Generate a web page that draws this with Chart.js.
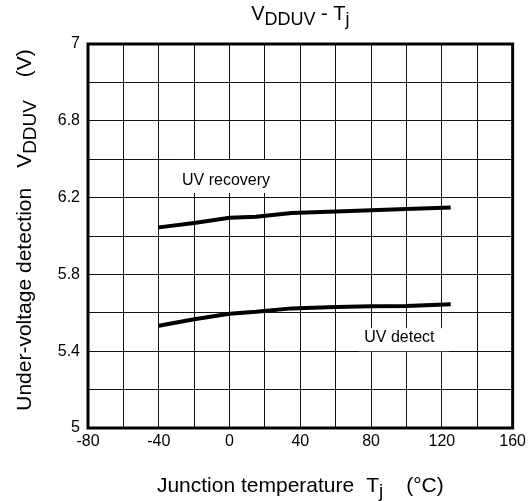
<!DOCTYPE html>
<html>
<head>
<meta charset="utf-8">
<script src="https://cdn.jsdelivr.net/npm/chart.js@4"></script>
<style>
  html, body { margin: 0; padding: 0; background: #fff; }
  #wrap { width: 530px; height: 501px; }
</style>
</head>
<body>
<div id="wrap"><canvas id="uvChart" width="530" height="501"></canvas></div>
<script>
// --- data ---
const temps = [-40, -20, 0, 15, 35, 60, 80, 100, 125];
const uvRecovery = [6.045, 6.068, 6.095, 6.100, 6.120, 6.128, 6.134, 6.141, 6.149];
const uvDetect = [5.533, 5.566, 5.595, 5.605, 5.623, 5.630, 5.634, 5.636, 5.644];
const xTickLabels = ['-80', '-40', '0', '40', '80', '120', '160'];
const yTickLabels = ['5', '5.4', '5.8', '6.2', '6.8', '7'];

const FONT = "'Liberation Sans', Arial, sans-serif";

// curve labels, in data units (text centre + white box behind it)
const curveLabels = [
    {text: 'UV recovery', x: -2, y: 6.29, box: [-30, 28, 6.224, 6.396]},
    {text: 'UV detect', x: 96, y: 5.469, box: [73, 124, 5.40, 5.52]}
];

// draws text made of parts, some of them subscripts
function richWidth(ctx, parts, size){
    let w = 0;
    parts.forEach(p => {
        if (p.gap) { w += p.gap; return; }
        ctx.font = (p.sub ? size * 0.9 : size) + 'px ' + FONT;
        w += ctx.measureText(p.t).width;
    });
    return w;
}
function drawRich(ctx, parts, x, y, size){
    const w = richWidth(ctx, parts, size);
    let cx = x - w / 2;
    ctx.textAlign = 'left';
    ctx.textBaseline = 'alphabetic';
    ctx.fillStyle = '#000';
    parts.forEach(p => {
        if (p.gap) { cx += p.gap; return; }
        const s = p.sub ? size * 0.9 : size;
        ctx.font = s + 'px ' + FONT;
        ctx.fillText(p.t, cx, y + (p.sub ? size * 0.25 : 0));
        cx += ctx.measureText(p.t).width;
    });
}

const decorations = {
    id: 'decorations',
    beforeDatasetsDraw(chart){
        const {ctx, scales: {x, y}} = chart;
        ctx.save();
        ctx.fillStyle = '#fff';
        curveLabels.forEach(l => {
            const x1 = x.getPixelForValue(l.box[0]), x2 = x.getPixelForValue(l.box[1]);
            const y1 = y.getPixelForValue(l.box[3]), y2 = y.getPixelForValue(l.box[2]);
            ctx.fillRect(x1, y1, x2 - x1, y2 - y1);
        });
        ctx.fillStyle = '#000';
        ctx.font = '16px ' + FONT;
        ctx.textAlign = 'center';
        ctx.textBaseline = 'middle';
        curveLabels.forEach(l => {
            ctx.fillText(l.text, x.getPixelForValue(l.x), y.getPixelForValue(l.y));
        });
        ctx.restore();
    },
    afterDraw(chart){
        const {ctx, chartArea: a} = chart;
        ctx.save();
        // frame
        ctx.strokeStyle = '#000';
        ctx.lineWidth = 3;
        ctx.strokeRect(a.left, a.top, a.right - a.left, a.bottom - a.top);

        const midX = (a.left + a.right) / 2;
        // title
        drawRich(ctx, [{t: 'V'}, {t: 'DDUV', sub: true}, {t: ' - T'}, {t: 'j', sub: true}], midX, 20, 20);
        // x axis title
        drawRich(ctx, [{t: 'Junction temperature'}, {gap: 12}, {t: 'T'}, {t: 'j', sub: true}, {gap: 23}, {t: '(°C)'}], midX, 492, 21);
        // y axis title, rotated
        ctx.translate(31, 230);
        ctx.rotate(-Math.PI / 2);
        drawRich(ctx, [{t: 'Under-voltage detection'}, {gap: 20}, {t: 'V'}, {t: 'DDUV', sub: true}, {gap: 23}, {t: '(V)'}], 0, 0, 21);
        ctx.restore();
    }
};

const lineStyle = {borderColor: '#000', borderWidth: 4, pointRadius: 0, tension: 0, fill: false};

new Chart(document.getElementById('uvChart').getContext('2d'), {
    type: 'line',
    data: {
        datasets: [
            Object.assign({label: 'UV recovery', data: temps.map((t, i) => ({x: t, y: uvRecovery[i]}))}, lineStyle),
            Object.assign({label: 'UV detect', data: temps.map((t, i) => ({x: t, y: uvDetect[i]}))}, lineStyle)
        ]
    },
    options: {
        responsive: false,
        animation: false,
        devicePixelRatio: 1,
        layout: {padding: {top: 44, right: 15, left: 0, bottom: 0}},
        plugins: {legend: {display: false}, title: {display: false}, tooltip: {enabled: false}},
        scales: {
            x: {
                type: 'linear', min: -80, max: 160,
                ticks: {
                    stepSize: 20, autoSkip: false, maxRotation: 0, padding: 4, color: '#000',
                    font: {family: FONT, size: 16},
                    callback: v => (v % 40 === 0 ? xTickLabels[(v + 80) / 40] : '')
                },
                grid: {color: '#111', lineWidth: 1, drawTicks: false},
                border: {display: false},
                afterFit: s => { s.height = 73; }
            },
            y: {
                min: 5, max: 7,
                ticks: {
                    stepSize: 0.2, autoSkip: false, padding: 8, color: '#000',
                    font: {family: FONT, size: 16},
                    callback: v => {
                        const k = (v - 5) / 0.4;
                        return Math.abs(k - Math.round(k)) < 1e-6 ? yTickLabels[Math.round(k)] : '';
                    }
                },
                grid: {color: '#111', lineWidth: 1, drawTicks: false},
                border: {display: false},
                afterFit: s => { s.width = 88; }
            }
        }
    },
    plugins: [decorations]
});
</script>
</body>
</html>
